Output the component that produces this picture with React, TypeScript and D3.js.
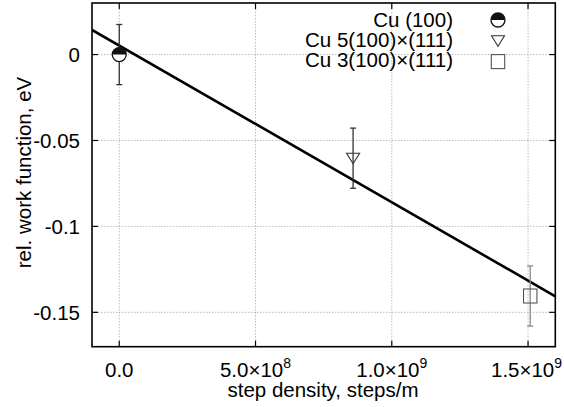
import React from "react";
import * as d3 from "d3";

const xTicks = [0, 5e8, 1e9, 1.5e9];
const xTickMant = ["0.0", "5.0", "1.0", "1.5"];
const xTickExp = ["", "8", "9", "9"];
const yTicks = [0, -0.05, -0.1, -0.15];
const yTickLabels = ["0", "-0.05", "-0.1", "-0.15"];

const seriesNames = ["Cu (100)", "Cu 5(100)\u00d7(111)", "Cu 3(100)\u00d7(111)"];
const seriesX = [0, 8.58e8, 1.508e9];
const seriesY = [0, -0.0603, -0.1405];
const seriesErr = [0.0175, 0.0175, 0.0175];
const seriesShape = ["halfcircle", "triangle", "square"];
const errColors = ["#333", "#333", "#888"];

const fitSlope = -9.12e-11;
const fitIntercept = 0.00524;

const W = 564, H = 407;
const left = 92, right = 555.3, top = 3, bottom = 346.7;

function Marker({ shape, cx, cy }: { shape: string; cx: number; cy: number }) {
  if (shape === "halfcircle") {
    const r = 7;
    return (
      <g>
        <circle cx={cx} cy={cy} r={r} fill="white" stroke="#111" strokeWidth={1.3} />
        <path d={`M${cx - r},${cy} A${r},${r} 0 0 1 ${cx + r},${cy} Z`} fill="#111" />
      </g>
    );
  }
  if (shape === "triangle") {
    return (
      <path
        d={`M${cx - 6.5},${cy - 5} L${cx + 6.5},${cy - 5} L${cx},${cy + 5.5} Z`}
        fill="none"
        stroke="#333"
        strokeWidth={1.1}
      />
    );
  }
  return <rect x={cx - 6.7} y={cy - 7} width={13.4} height={14} fill="none" stroke="#555" strokeWidth={1.1} />;
}

export default function App() {
  const x = d3.scaleLinear().domain([-1e8, 1.6e9]).range([left, right]);
  const y = d3.scaleLinear().domain([-0.17, 0.03]).range([bottom, top]);
  const fit = d3.line<number>().x((d) => x(d)).y((d) => y(fitIntercept + fitSlope * d));
  const font = "'Liberation Sans', Arial, Helvetica, sans-serif";
  const fs = 20.5;
  return (
    <svg width={W} height={H} style={{ position: "absolute", left: 0, top: 0, background: "white" }} fontFamily={font}>
      <rect x={0} y={0} width={W} height={H} fill="white" />
      <defs>
        <clipPath id="plot">
          <rect x={left} y={top} width={right - left} height={bottom - top} />
        </clipPath>
      </defs>
      {/* grid */}
      {xTicks.map((t, i) => (
        <line key={"gx" + i} x1={x(t)} x2={x(t)} y1={top} y2={bottom} stroke="#aaa" strokeWidth={0.8} strokeDasharray="1.5,1.5" />
      ))}
      {yTicks.map((t, i) => (
        <line key={"gy" + i} x1={left} x2={right} y1={y(t)} y2={y(t)} stroke="#aaa" strokeWidth={0.8} strokeDasharray="1.5,1.5" />
      ))}
      {/* ticks */}
      {xTicks.map((t, i) => (
        <g key={"tx" + i}>
          <line x1={x(t)} x2={x(t)} y1={bottom} y2={bottom - 6} stroke="#000" strokeWidth={1.2} />
          <line x1={x(t)} x2={x(t)} y1={top} y2={top + 6} stroke="#000" strokeWidth={1.2} />
        </g>
      ))}
      {yTicks.map((t, i) => (
        <g key={"ty" + i}>
          <line x1={left} x2={left + 6} y1={y(t)} y2={y(t)} stroke="#000" strokeWidth={1.2} />
          <line x1={right} x2={right - 6} y1={y(t)} y2={y(t)} stroke="#000" strokeWidth={1.2} />
        </g>
      ))}
      {/* fit line */}
      <path d={fit([-1e8, 1.6e9]) || ""} stroke="#000" strokeWidth={2.6} fill="none" clipPath="url(#plot)" />
      {/* data */}
      {seriesX.map((sx, i) => {
        const cx = x(sx);
        const y1 = y(seriesY[i] + seriesErr[i]);
        const y2 = y(seriesY[i] - seriesErr[i]);
        return (
          <g key={"d" + i}>
            <line x1={cx} x2={cx} y1={y1} y2={y2} stroke={errColors[i]} strokeWidth={1.3} />
            <line x1={cx - 3} x2={cx + 3} y1={y1} y2={y1} stroke={errColors[i]} strokeWidth={1.3} />
            <line x1={cx - 3} x2={cx + 3} y1={y2} y2={y2} stroke={errColors[i]} strokeWidth={1.3} />
            <Marker shape={seriesShape[i]} cx={cx} cy={y(seriesY[i])} />
          </g>
        );
      })}
      {/* frame */}
      <rect x={left} y={top} width={right - left} height={bottom - top} fill="none" stroke="#000" strokeWidth={1.6} />
      {/* tick labels */}
      {yTicks.map((t, i) => (
        <text key={"ly" + i} x={80} y={y(t)} dy="0.36em" textAnchor="end" fontSize={fs}>
          {yTickLabels[i]}
        </text>
      ))}
      {xTicks.map((t, i) => (
        <text key={"lx" + i} x={x(t) - (i === 3 ? 1.5 : 0)} y={377} textAnchor="middle" fontSize={fs}>
          {xTickMant[i]}
          {xTickExp[i] ? "\u00d710" : ""}
          {xTickExp[i] ? (
            <tspan dy={-9} fontSize={14}>
              {xTickExp[i]}
            </tspan>
          ) : null}
        </text>
      ))}
      {/* axis titles */}
      <text x={323} y={397} textAnchor="middle" fontSize={fs}>
        step density, steps/m
      </text>
      <text transform={`translate(31,172.5) rotate(-90)`} textAnchor="middle" fontSize={fs}>
        rel. work function, eV
      </text>
      {/* legend */}
      {seriesNames.map((n, i) => (
        <g key={"lg" + i}>
          <text x={453} y={27 + i * 20} textAnchor="end" fontSize={fs}>
            {n}
          </text>
          <Marker shape={seriesShape[i]} cx={498} cy={20 + i * 20.8} />
        </g>
      ))}
    </svg>
  );
}
